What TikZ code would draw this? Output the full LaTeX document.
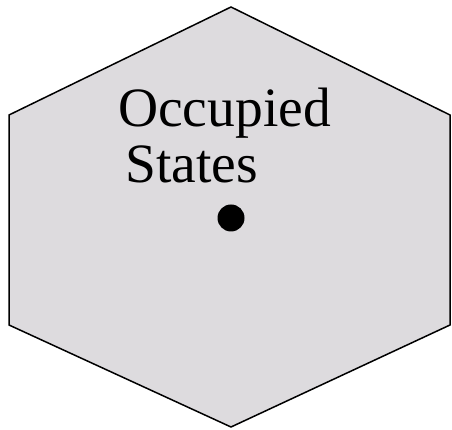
\documentclass[tikz,border=0pt]{standalone}
\usepackage{fontspec}
\setmainfont{Liberation Serif}
\definecolor{hexfill}{RGB}{221,219,222}
\tikzset{
  hexbox/.style={draw=black, line width=1.5pt, fill=hexfill, line join=miter},
  lbl/.style={anchor=base west, inner sep=0pt, font=\fontsize{55.5}{58}\selectfont},
  dot/.style={circle, fill=black, inner sep=0pt, minimum size=27pt}
}
\begin{document}
\begin{tikzpicture}[x=1pt,y=1pt]
\useasboundingbox (0,0) rectangle (452,430);
\draw[hexbox] (231,423) -- (450,315) -- (450,105) -- (231,3) -- (9,105) -- (9,315) -- cycle;
\node[lbl] (occ) at (118,303) {Occupied};
\node[lbl] (sta) at (125,247) {States};
\node[dot] (d) at (231,212) {};
\end{tikzpicture}
\end{document}
